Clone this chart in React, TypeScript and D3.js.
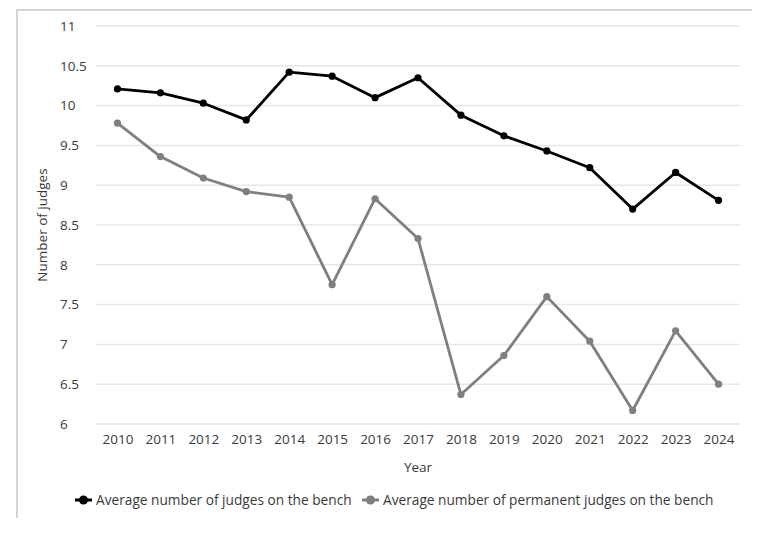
import { useEffect, useRef } from 'react';

import * as d3 from 'd3';

const width = 777;
const height = 552;
// plot area (px)
const [mt, mr, mb, ml] = [26, 37, 128, 96];
const graphWidth = width - ml - mr;
const graphHeight = height - mt - mb;

const years = ['2010', '2011', '2012', '2013', '2014', '2015', '2016', '2017', '2018', '2019', '2020', '2021', '2022', '2023', '2024'];
const allJudges = [10.21, 10.16, 10.03, 9.82, 10.42, 10.37, 10.1, 10.35, 9.88, 9.62, 9.43, 9.22, 8.7, 9.16, 8.81];
const permanentJudges = [9.78, 9.36, 9.09, 8.92, 8.85, 7.75, 8.83, 8.33, 6.37, 6.86, 7.6, 7.04, 6.17, 7.17, 6.5];
const yTicks = [6, 6.5, 7, 7.5, 8, 8.5, 9, 9.5, 10, 10.5, 11];

const series = [
    { name: 'Average number of judges on the bench', values: allJudges, color: '#000000' },
    { name: 'Average number of permanent judges on the bench', values: permanentJudges, color: '#7f7f7f' }
];

const font = "'Open Sans', 'Liberation Sans', Arial, sans-serif";
const textColor = '#3a3a3a';

export default function App() {
    const chart = useRef<SVGSVGElement>(null);

    useEffect(() => {
        const svg = d3.select(chart.current);
        svg.selectAll('*').remove();

        // outer frame (only top and left edges are visible)
        svg.append('path')
            .attr('d', 'M17,518V10H752')
            .attr('fill', 'none')
            .attr('stroke', '#d4d4d4')
            .attr('stroke-width', 2);

        const graph = svg.append('g').attr('transform', `translate(${ml}, ${mt})`);

        const xScale = d3.scalePoint().domain(years).range([0, graphWidth]).padding(0.5);
        const yScale = d3.scaleLinear().domain([6, 11]).range([graphHeight, 0]);

        // grid lines
        graph.selectAll('line.grid')
            .data(yTicks)
            .enter()
            .append('line')
            .attr('class', 'grid')
            .attr('x1', 0)
            .attr('x2', graphWidth)
            .attr('y1', (d) => yScale(d))
            .attr('y2', (d) => yScale(d))
            .attr('stroke', '#e6e6e6')
            .attr('stroke-width', 1.5);

        // y tick labels, left aligned
        graph.selectAll('text.ytick')
            .data(yTicks)
            .enter()
            .append('text')
            .attr('class', 'ytick')
            .attr('x', 60 - ml)
            .attr('y', (d) => yScale(d))
            .attr('dy', '0.35em')
            .attr('font-family', font)
            .attr('font-size', 13.5)
            .attr('fill', textColor)
            .text((d) => String(d));

        // x tick labels
        const xAxis = d3.axisBottom(xScale).tickSize(0).tickPadding(10);
        graph.append('g')
            .attr('transform', `translate(0, ${graphHeight})`)
            .call(xAxis)
            .call((g) => g.select('.domain').remove())
            .call((g) =>
                g.selectAll('text').attr('font-family', font).attr('font-size', 13.5).attr('fill', textColor)
            );

        // axis titles
        svg.append('text')
            .attr('x', ml + graphWidth / 2)
            .attr('y', 472)
            .attr('text-anchor', 'middle')
            .attr('font-family', font)
            .attr('font-size', 13.5)
            .attr('fill', textColor)
            .text('Year');

        svg.append('text')
            .attr('transform', `translate(47, ${mt + graphHeight / 2}) rotate(-90)`)
            .attr('text-anchor', 'middle')
            .attr('font-family', font)
            .attr('font-size', 13.5)
            .attr('fill', textColor)
            .text('Number of judges');

        const line = d3
            .line<number>()
            .x((_, i) => xScale(years[i])!)
            .y((d) => yScale(d));

        // draw gray first so black sits on top
        [...series].reverse().forEach((s) => {
            graph.append('path')
                .datum(s.values)
                .attr('d', line)
                .attr('fill', 'none')
                .attr('stroke', s.color)
                .attr('stroke-width', 2.8)
                .attr('stroke-linejoin', 'round');

            graph.selectAll(null)
                .data(s.values)
                .enter()
                .append('circle')
                .attr('cx', (_, i) => xScale(years[i])!)
                .attr('cy', (d) => yScale(d))
                .attr('r', 3.6)
                .attr('fill', s.color);
        });

        // legend
        const legendX = [75, 362];
        series.forEach((s, i) => {
            const g = svg.append('g').attr('transform', `translate(${legendX[i]}, 500)`);
            g.append('line')
                .attr('x1', 0)
                .attr('x2', 17)
                .attr('stroke', s.color)
                .attr('stroke-width', 3);
            g.append('circle').attr('cx', 8.5).attr('r', 4.5).attr('fill', s.color);
            g.append('text')
                .attr('x', 21)
                .attr('dy', '0.35em')
                .attr('font-family', font)
                .attr('font-size', 13.7)
                .attr('fill', textColor)
                .text(s.name);
        });
    }, []);

    return (
        <div style={{ position: 'absolute', left: 0, top: 0, width, height, background: '#ffffff' }}>
            <svg ref={chart} width={width} height={height} />
        </div>
    );
}
